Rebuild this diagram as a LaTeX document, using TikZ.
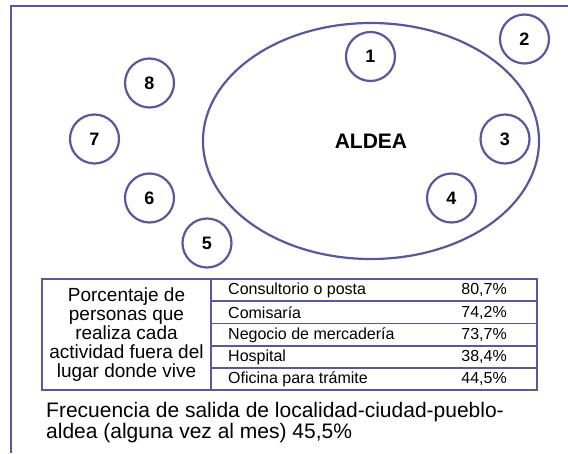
\documentclass[tikz,border=0pt]{standalone}
\usepackage{fontspec}
\setmainfont{Liberation Sans}
\usetikzlibrary{shapes.geometric}
\definecolor{aldeablue}{RGB}{88,88,158}
\tikzset{
  lugar/.style={circle, draw=aldeablue, line width=2.2pt, minimum size=49pt, inner sep=0pt, font=\fontsize{18}{18}\selectfont\bfseries},
  celda/.style={anchor=west, inner sep=0pt, font=\fontsize{16}{16}\selectfont},
  pct/.style={anchor=east, inner sep=0pt, font=\fontsize{16}{16}\selectfont}
}
\begin{document}
\begin{tikzpicture}[x=1pt, y=-1pt]
    \useasboundingbox (0,0) rectangle (568,453);
    % marco
    \draw[aldeablue, line width=2.4pt] (11,453) -- (11,6) -- (568,6);
    % aldea y lugares
    \draw (371,141) node[ellipse, draw=aldeablue, line width=2.2pt, minimum width=336pt, minimum height=236pt, font=\fontsize{21}{21}\selectfont\bfseries](aldea){ALDEA};
    \draw (370.5,56.5) node[lugar](l1){1}
        (524.5,39) node[lugar](l2){2}
        (505,139) node[lugar](l3){3}
        (451.5,198) node[lugar](l4){4}
        (207,243) node[lugar](l5){5}
        (149.5,198) node[lugar](l6){6}
        (94.5,139) node[lugar](l7){7}
        (149.5,83) node[lugar](l8){8};
    % tabla
    \draw[aldeablue, line width=1.3pt] (42,279) rectangle (537,390);
    \draw[aldeablue, line width=1.3pt] (211,279) -- (211,390);
    \draw[aldeablue, line width=1.3pt] (211,301) -- (537,301)
        (211,323.5) -- (537,323.5)
        (211,346) -- (537,346)
        (211,368) -- (537,368);
    \draw (126.5,334.5) node[align=center, inner sep=0pt, font=\fontsize{19}{19}\selectfont](titulo){Porcentaje de\\personas que\\realiza cada\\actividad fuera del\\lugar donde vive};
    \draw (228,290) node[celda](c1){Consultorio o posta}
        (228,312.5) node[celda](c2){Comisaría}
        (228,335) node[celda](c3){Negocio de mercadería}
        (228,357) node[celda](c4){Hospital}
        (228,379) node[celda](c5){Oficina para trámite};
    \draw (507,290) node[pct](v1){80,7\%}
        (507,312.5) node[pct](v2){74,2\%}
        (507,335) node[pct](v3){73,7\%}
        (507,357) node[pct](v4){38,4\%}
        (507,379) node[pct](v5){44,5\%};
    % frecuencia
    \draw (46,402) node[anchor=north west, align=left, inner sep=0pt, font=\fontsize{21}{21}\selectfont](frec){Frecuencia de salida de localidad-ciudad-pueblo-\\aldea (alguna vez al mes) 45,5\%};
\end{tikzpicture}
\end{document}
